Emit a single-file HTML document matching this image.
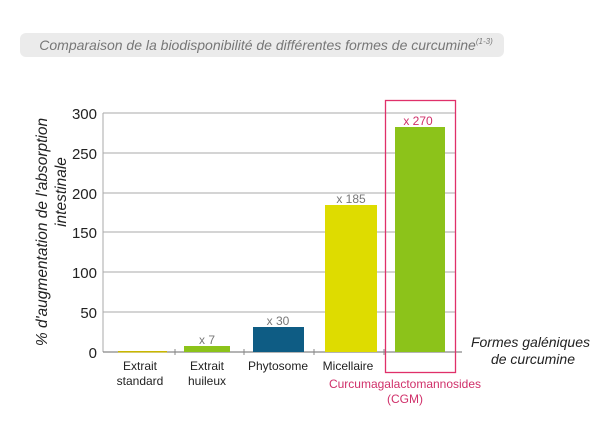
<!DOCTYPE html>
<html><head><style>
body{margin:0;width:600px;height:427px;background:#fff;font-family:"Liberation Sans",sans-serif;overflow:hidden}
</style></head><body>
<svg width="600" height="427" xmlns="http://www.w3.org/2000/svg" font-family="Liberation Sans, sans-serif">
<rect x="20" y="33" width="484" height="24" rx="6" fill="#ebebeb"/>
<text x="266" y="50" text-anchor="middle" font-size="14" font-style="italic" fill="#777">Comparaison de la biodisponibilité de différentes formes de curcumine<tspan font-size="8" dy="-6">(1-3)</tspan></text>
<g stroke="#aaa" stroke-width="1">
<line x1="103" y1="113" x2="455" y2="113"/><line x1="103" y1="153" x2="455" y2="153"/>
<line x1="103" y1="193" x2="455" y2="193"/><line x1="103" y1="232" x2="455" y2="232"/>
<line x1="103" y1="272" x2="455" y2="272"/><line x1="103" y1="312" x2="455" y2="312"/>
<line x1="103" y1="113" x2="103" y2="352"/>
</g>
<line x1="103" y1="352" x2="462" y2="352" stroke="#888" stroke-width="1.2"/>
<g stroke="#888"><line x1="175" y1="349" x2="175" y2="355"/><line x1="244" y1="349" x2="244" y2="355"/><line x1="314" y1="349" x2="314" y2="355"/><line x1="384" y1="349" x2="384" y2="355"/></g>
<g font-size="15" fill="#222" text-anchor="end">
<text x="97" y="119">300</text><text x="97" y="159">250</text><text x="97" y="199">200</text>
<text x="97" y="238">150</text><text x="97" y="278">100</text><text x="97" y="318">50</text><text x="97" y="358">0</text>
</g>
<text transform="translate(47,232) rotate(-90)" text-anchor="middle" font-size="15.5" font-style="italic" fill="#222">% d'augmentation de l'absorption</text>
<text transform="translate(66,192) rotate(-90)" text-anchor="middle" font-size="15.5" font-style="italic" fill="#222">intestinale</text>
<rect x="118" y="351" width="49" height="1.5" fill="#c9b700"/>
<rect x="184" y="346" width="46" height="6" fill="#8cc31a"/>
<rect x="253" y="327" width="51" height="25" fill="#0e5c84"/>
<rect x="325" y="205" width="52" height="147" fill="#dedc00"/>
<rect x="395" y="127" width="50" height="225" fill="#8cc31a"/>
<rect x="385.5" y="100.5" width="70" height="272" fill="none" stroke="#e0306a" stroke-width="1.3"/>
<g font-size="12" fill="#777" text-anchor="middle">
<text x="207" y="344">x 7</text><text x="278" y="325">x 30</text><text x="351" y="203">x 185</text>
</g>
<text x="418" y="125" font-size="12" fill="#d0306a" text-anchor="middle">x 270</text>
<g font-size="12" fill="#222" text-anchor="middle">
<text x="140" y="370">Extrait</text><text x="140" y="385">standard</text>
<text x="207" y="370">Extrait</text><text x="207" y="385">huileux</text>
<text x="278" y="370">Phytosome</text><text x="348" y="370">Micellaire</text>
</g>
<g font-size="12" fill="#d0306a" text-anchor="middle"><text x="405" y="388">Curcumagalactomannosides</text><text x="405" y="403">(CGM)</text></g>
<g font-size="14" font-style="italic" fill="#222" text-anchor="end"><text x="590" y="347">Formes galéniques</text><text x="575" y="364">de curcumine</text></g>
</svg>
</body></html>
